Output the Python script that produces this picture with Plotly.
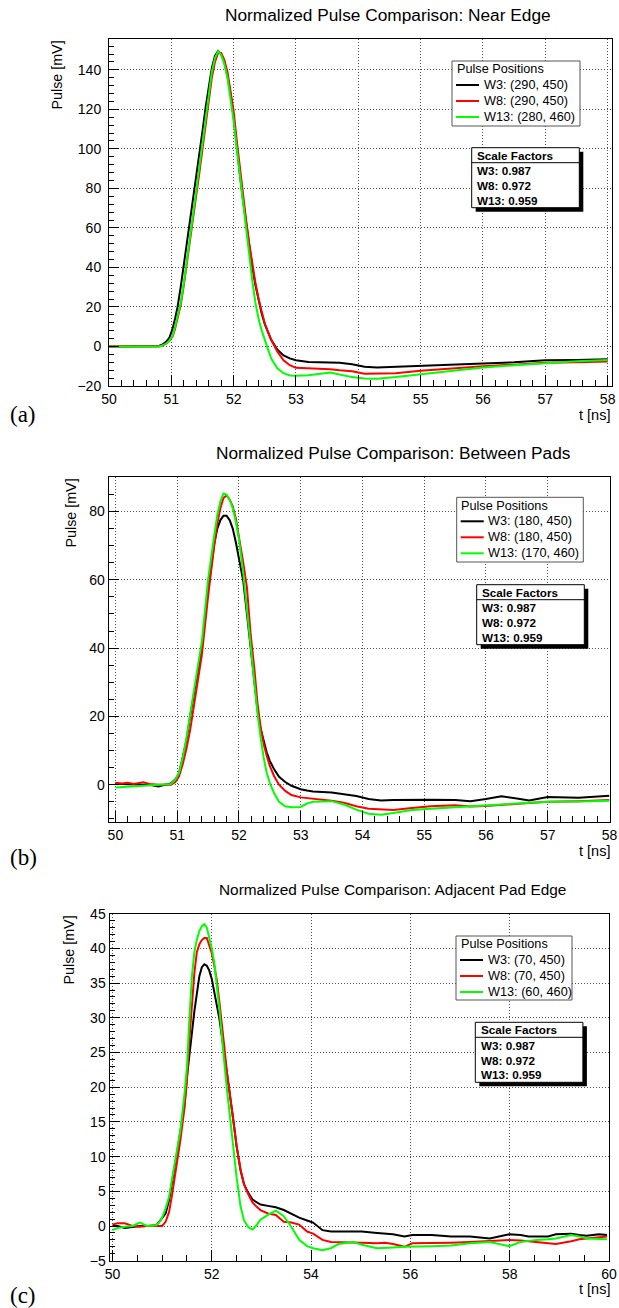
import plotly.graph_objects as go

W, H = 619, 1308
FONT = "Liberation Sans, Arial, Helvetica, sans-serif"
SERIF = "Liberation Serif, Times New Roman, serif"

# ---------------- data ----------------
series_names = ["W3", "W8", "W13"]
series_colors = ["#000000", "#ff0000", "#00ff00"]
scale_factors = [0.987, 0.972, 0.959]

panel_titles = [
    "Normalized Pulse Comparison: Near Edge",
    "Normalized Pulse Comparison: Between Pads",
    "Normalized Pulse Comparison: Adjacent Pad Edge",
]
panel_tags = ["(a)", "(b)", "(c)"]
pulse_positions_a = ["(290, 450)", "(290, 450)", "(280, 460)"]
pulse_positions_b = ["(180, 450)", "(180, 450)", "(170, 460)"]
pulse_positions_c = ["(70, 450)", "(70, 450)", "(60, 460)"]

# panel (a): Near Edge
t_a = [50.0, 50.3, 50.6, 50.8, 50.86, 50.92, 50.97, 51.02, 51.06,
       51.10, 51.15, 51.20, 51.25, 51.30, 51.35, 51.40, 51.45, 51.50, 51.55,
       51.60, 51.65, 51.70, 51.75, 51.80, 51.85, 51.90, 51.95, 52.00, 52.05,
       52.10, 52.15, 52.20, 52.25, 52.30, 52.35, 52.40, 52.45, 52.50,
       52.6, 52.7, 52.8, 52.9, 53.0, 53.2, 53.4, 53.55, 53.7, 53.9,
       54.1, 54.3, 54.6, 55.0, 55.5, 56.0, 56.5, 57.0, 57.5, 58.0]
w3_a = [0, 0, 0, 0.3, 1, 2.5, 4.5, 9, 14,
        20, 30, 41, 52, 63, 74, 85, 97, 109, 121,
        131, 141, 147, 149.5, 148, 144, 137, 128, 116, 100,
        87, 74, 62, 51, 40, 31, 23, 16.5, 11.3,
        3.5, -1.5, -4.5, -6, -7, -7.8, -8.0, -8.0, -8.2, -9,
        -10.3, -10.6, -10.3, -9.7, -9.2, -8.6, -8.0, -7.0, -6.8, -6.4]
w8_a = [0, 0, 0, 0, 0.5, 1.5, 3, 5, 9,
        14, 21, 31, 42, 53, 64, 76, 88, 100, 113,
        125, 136, 144, 148.5, 148.5, 145, 139, 130, 119, 104,
        90, 77, 64, 52, 41, 32, 24, 17, 11.5,
        3.5, -2.5, -7, -9.5, -10.8, -11, -11.2, -11.5, -12, -12.5,
        -13.8, -13.8, -13.5, -12.3, -11.0, -10.0, -9.2, -8.2, -8.0, -7.6]
w13_a = [0, 0, 0, 0, 0.5, 1.5, 3, 5.5, 10,
         15, 22, 32, 43, 55, 67, 79, 91, 104, 117,
         129, 139, 146, 149.5, 147.5, 143, 136, 126, 114, 100,
         86, 72, 58, 45, 33, 22, 14, 8, 3,
         -6, -11, -13.5, -14.7, -14.8, -14.6, -13.8, -13.2, -14.2, -15.5,
         -16.2, -16.3, -15.5, -14.0, -12.2, -10.6, -9.5, -8.4, -7.5, -6.9]

# panel (b): Between Pads
t_b = [50.0, 50.1, 50.2, 50.3, 50.45, 50.55, 50.7, 50.8, 50.9, 50.97,
       51.03, 51.09, 51.15, 51.21, 51.30, 51.40, 51.50, 51.55, 51.60, 51.65,
       51.70, 51.75, 51.80, 51.85, 51.90, 51.95, 52.00, 52.07, 52.13, 52.19,
       52.25, 52.30, 52.35, 52.40, 52.45, 52.50, 52.57, 52.65, 52.75, 52.85,
       53.0, 53.1, 53.2, 53.5, 53.7, 53.9, 54.1, 54.3, 54.5, 54.8,
       55.1, 55.5, 55.75, 56.0, 56.25, 56.5, 56.7, 57.0, 57.5, 58.0]
w3_b = [0.3, 0.2, 0.1, 0, 0, 0, -0.5, 0, 0.4, 1.5,
        3.3, 8, 13, 20, 29, 40, 57, 64, 70.5, 75,
        77.5, 78.8, 78.8, 77.5, 75, 71, 66.5, 59.7, 50, 39.4,
        29, 22, 16.5, 12.5, 9.5, 7, 4.5, 2.3, 0.8, -0.3,
        -1.3, -1.7, -2, -2.3, -2.7, -3.3, -4.2, -4.6, -4.5, -4.4,
        -4.4, -4.5, -4.8, -4.2, -3.4, -4.0, -4.6, -3.6, -3.8, -3.2]
w8_b = [0.6, 0.4, 0.6, 0.2, 0.7, 0.2, 0, 0, 0, 0.8,
        2.5, 6, 10.5, 16, 26, 38, 55, 63, 70, 76.5,
        81, 84, 84.7, 83.5, 81.5, 78, 73, 65, 57.7, 44,
        34, 24, 17, 12, 8.5, 5.5, 2.5, 0, -1.8, -3,
        -3.7, -3.9, -4.0, -4.7, -5.3, -6.3, -7.0, -7.3, -7.4, -6.8,
        -6.3, -6.0, -6.4, -6.2, -5.9, -5.6, -5.4, -5.0, -4.8, -4.5]
w13_b = [-0.8, -0.7, -0.5, -0.4, -0.2, -0.1, 0, 0, 0.2, 1.5,
         3.5, 8, 13.5, 20.5, 31, 42, 60, 67, 73, 79,
         83, 85.3, 85, 83.5, 81, 77, 72, 62, 51, 39.4,
         30, 21, 14, 8, 3.5, 0.5, -2.5, -5, -6.3, -6.6,
         -6.5, -5.5, -5.0, -4.8, -5.8, -7.3, -8.5, -8.8, -8.3, -7.4,
         -7.0, -6.6, -6.3, -5.9, -5.8, -5.6, -5.4, -5.0, -4.9, -4.7]

# panel (c): Adjacent Pad Edge
t_c = [50.0, 50.1, 50.25, 50.4, 50.55, 50.7, 50.88, 50.94, 51.0, 51.07,
       51.14, 51.2, 51.25, 51.3, 51.37, 51.45, 51.5, 51.55, 51.6, 51.65,
       51.7, 51.75, 51.8, 51.85, 51.9, 51.95, 52.0, 52.05, 52.1, 52.15,
       52.2, 52.25, 52.3, 52.37, 52.43, 52.5, 52.58, 52.65, 52.74, 52.82,
       52.9, 52.98, 53.13, 53.29, 53.45, 53.6, 53.76, 53.92, 54.04, 54.23,
       54.4, 54.55, 54.86, 55.02, 55.33, 55.49, 55.65, 55.88, 56.04, 56.43,
       56.82, 57.2, 57.6, 57.99, 58.22, 58.38, 58.54, 58.77, 58.93, 59.24,
       59.4, 59.55, 59.8, 59.96]
w3_c = [0.0, 0.0, -0.3, -0.1, 0.0, 0.0, 0.1, 0.6, 1.1, 1.8,
        3.75, 6.6, 8.5, 10.5, 13.5, 17.5, 21.5, 25, 28, 31,
        33.5, 36, 37.3, 37.7, 37.5, 36.8, 35.6, 33.8, 32.0, 30.0,
        27.5, 25, 22, 18.5, 15.5, 11.5, 8.0, 6.0, 4.7, 3.8,
        3.4, 3.1, 2.9, 2.7, 2.3, 1.8, 1.2, 0.8, 0.5, -0.6,
        -0.8, -0.8, -0.8, -0.8, -1.0, -1.1, -1.2, -1.5, -1.3, -1.3,
        -1.5, -1.5, -1.8, -1.2, -1.3, -1.5, -1.5, -1.5, -1.2, -1.1,
        -1.3, -1.4, -1.2, -1.3]
w8_c = [0.2, 0.4, 0.4, 0.0, -0.1, 0.0, 0.0, 0.0, 0.0, 0.6,
        2.0, 4.5, 6.8, 9, 12.5, 17, 21, 27, 32.5, 36.5,
        39.5, 40.6, 41.2, 41.5, 41.5, 40.5, 39.3, 37.5, 35.5, 32.5,
        29.5, 26, 22.5, 18.5, 15.5, 11.5, 8.1, 6, 4.5, 3.4,
        2.8, 2.3, 1.8, 1.6, 0.6, 0.5, 0.2, -0.8, -1.1, -2.0,
        -2.3, -2.3, -2.3, -2.4, -2.5, -2.4, -2.6, -3.0, -2.5, -2.5,
        -2.4, -2.3, -2.2, -2.0, -2.1, -2.2, -2.3, -2.4, -2.6, -2.2,
        -1.9, -1.8, -1.6, -1.5]
w13_c = [-0.6, -0.3, -0.1, 0.0, 0.5, 0.0, 0.1, 0.5, 1.2, 2.5,
         4.2, 6.6, 8.5, 10.5, 13.9, 19, 23, 30, 36, 39.5,
         41.3, 42.5, 43.2, 43.5, 43.0, 41.5, 40, 38, 35, 31.5,
         27.5, 23.5, 20, 15.5, 11.5, 7, 2.8, 0.8, -0.2, -0.5,
         0.1, 0.9, 1.6, 2.2, 1.4, -0.1, -2.0, -2.9, -3.2, -3.5,
         -3.2, -2.6, -2.3, -2.7, -3.2, -3.1, -3.1, -3.0, -3.0, -2.9,
         -2.8, -2.5, -2.3, -2.9, -2.3, -2.1, -2.0, -1.9, -1.8, -1.3,
         -1.5, -1.8, -1.8, -1.9]

panel_data = [
    (t_a, [w3_a, w8_a, w13_a], pulse_positions_a),
    (t_b, [w3_b, w8_b, w13_b], pulse_positions_b),
    (t_c, [w3_c, w8_c, w13_c], pulse_positions_c),
]

# ---------------- layout (pixel positions) ----------------
PANELS = [
    dict(frame=(109, 612, 39, 386), xr=(50.0, 58.07), yr=(-20, 155.6),
         xdt=1, xminor=0.2, ydt=20, yminor=4, ystand=4,
         title=(388, 15, 17.3), ylab=(57, 39), xlab=(612, 414.5), tag=(8, 414),
         legend=(452, 61, 128, 65), box=(471.7, 147.7)),
    dict(frame=(108.6, 609.5, 476.7, 822.3), xr=(49.89, 58.0), yr=(-11, 90.2),
         xdt=1, xminor=0.2, ydt=20, yminor=5, ystand=0,
         title=(393, 452.7, 17.3), ylab=(70, 477), xlab=(612, 851), tag=(8, 857),
         legend=(456.7, 497.3, 126.6, 64.7), box=(476.7, 584.7)),
    dict(frame=(109.5, 609, 913.7, 1260.7), xr=(49.94, 60.0), yr=(-5, 45),
         xdt=2, xminor=0.5, ydt=5, yminor=1, ystand=0,
         title=(392, 889.3, 15.4), ylab=(68, 914), xlab=(612, 1289), tag=(8, 1295),
         legend=(456, 936, 116, 64), box=(475.3, 1022.3)),
]
BOX_W = 107.6


def px(x):
    return x / W


def py(y):
    return 1 - y / H


fig = go.Figure()
annotations = []
shapes = []
layout_upd = {}


def text_ann(text, x, y, size, xanchor="left", yanchor="middle", family=FONT, angle=0):
    return dict(text=text, x=px(x), y=py(y), xref="paper", yref="paper",
                xanchor=xanchor, yanchor=yanchor, showarrow=False, textangle=angle,
                font=dict(family=family, size=size, color="black"))


for i, (P, (t, ys, poss)) in enumerate(zip(PANELS, panel_data)):
    sfx = "" if i == 0 else str(i + 1)
    xl, xr, yt, yb = P["frame"]
    common = dict(showline=True, mirror=True, linecolor="black", linewidth=1,
                  ticks="inside", tickcolor="black", tickwidth=1,
                  showgrid=True, gridcolor="#505050", griddash="1px,2px", gridwidth=1,
                  zeroline=False, automargin=False, fixedrange=True,
                  ticklabeloverflow="allow",
                  tickfont=dict(family=FONT, size=14, color="black"))
    layout_upd["xaxis" + sfx] = dict(
        common, domain=[px(xl), px(xr)], range=list(P["xr"]), anchor="y" + sfx,
        tick0=50, dtick=P["xdt"], ticklen=11,
        minor=dict(ticks="inside", ticklen=6, dtick=P["xminor"], tickcolor="black", showgrid=False))
    layout_upd["yaxis" + sfx] = dict(
        common, domain=[py(yb), py(yt)], range=list(P["yr"]), anchor="x" + sfx,
        tick0=0, dtick=P["ydt"], ticklen=10, ticklabelstandoff=P["ystand"],
        minor=dict(ticks="inside", ticklen=5, dtick=P["yminor"], tickcolor="black", showgrid=False))

    for name, col, vals, pos in zip(series_names, series_colors, ys, poss):
        fig.add_trace(go.Scatter(
            x=t, y=vals, mode="lines", line=dict(color=col, width=2),
            name=f"{name}: {pos}", xaxis="x" + sfx, yaxis="y" + sfx,
            showlegend=False, hoverinfo="skip"))

    tx, ty, ts = P["title"]
    annotations.append(text_ann(panel_titles[i], tx, ty, ts, xanchor="center"))
    yx, yy = P["ylab"]
    annotations.append(text_ann("Pulse [mV]", yx, yy, 14.3, xanchor="center", yanchor="top", angle=-90))
    xx, xy = P["xlab"]
    annotations.append(text_ann("t [ns]", xx, xy, 14.5, xanchor="right"))
    gx, gy = P["tag"]
    annotations.append(text_ann(panel_tags[i], gx, gy, 23, family=SERIF))

    # legend box "Pulse Positions" (ROOT TLegend style)
    lx, ly, lw, lh = P["legend"]
    shapes.append(dict(type="rect", xref="paper", yref="paper",
                       x0=px(lx), x1=px(lx + lw), y0=py(ly + lh), y1=py(ly),
                       fillcolor="white", line=dict(color="#555555", width=1)))
    annotations.append(text_ann("Pulse Positions", lx + 2.5, ly + 8.3, 12.7))
    for k, (name, col, pos) in enumerate(zip(series_names, series_colors, poss)):
        ey = ly + 24 + 16 * k
        shapes.append(dict(type="line", xref="paper", yref="paper",
                           x0=px(lx + 4), x1=px(lx + 27), y0=py(ey), y1=py(ey),
                           line=dict(color=col, width=2)))
        annotations.append(text_ann(f"{name}: {pos}", lx + 29.5, ey, 12.7))

    # scale-factor box with shadow (ROOT TPaveText style)
    bx, by = P["box"]
    shapes.append(dict(type="rect", xref="paper", yref="paper",
                       x0=px(bx + 4), x1=px(bx + BOX_W + 4), y0=py(by + 64), y1=py(by + 4),
                       fillcolor="black", line=dict(width=0)))
    shapes.append(dict(type="rect", xref="paper", yref="paper",
                       x0=px(bx), x1=px(bx + BOX_W), y0=py(by + 60), y1=py(by),
                       fillcolor="white", line=dict(color="black", width=1)))
    shapes.append(dict(type="line", xref="paper", yref="paper",
                       x0=px(bx), x1=px(bx + BOX_W), y0=py(by + 15), y1=py(by + 15),
                       line=dict(color="black", width=1)))
    rows = ["Scale Factors"] + [f"{n}: {v:.3f}" for n, v in zip(series_names, scale_factors)]
    offs = [7.5, 23, 38, 52.5]
    for txt, o in zip(rows, offs):
        annotations.append(text_ann(f"<b>{txt}</b>", bx + 3.5, by + o, 11.7))

fig.update_layout(width=W, height=H, margin=dict(l=0, r=0, t=0, b=0),
                  paper_bgcolor="white", plot_bgcolor="white", showlegend=False,
                  annotations=annotations, shapes=shapes, **layout_upd)

fig.write_html("out.html", config={"displayModeBar": False})
